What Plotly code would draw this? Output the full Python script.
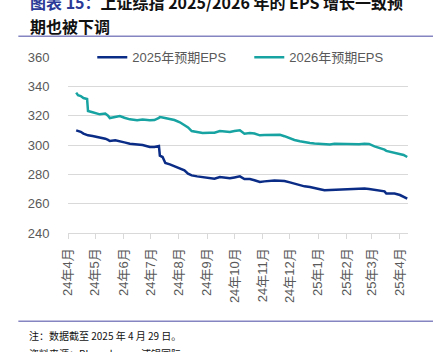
import plotly.graph_objects as go

dates = [
    "2024-04-10", "2024-04-12", "2024-04-15", "2024-04-18", "2024-04-22", "2024-04-23",
    "2024-04-28", "2024-05-03", "2024-05-06", "2024-05-12", "2024-05-15", "2024-05-17",
    "2024-05-23", "2024-05-28", "2024-06-02", "2024-06-08", "2024-06-16", "2024-06-22",
    "2024-06-30", "2024-07-05", "2024-07-10", "2024-07-11", "2024-07-14", "2024-07-17",
    "2024-07-22", "2024-07-27", "2024-08-02", "2024-08-07", "2024-08-11", "2024-08-15",
    "2024-08-21", "2024-08-27", "2024-09-04", "2024-09-09", "2024-09-15", "2024-09-20",
    "2024-09-26", "2024-10-01", "2024-10-07", "2024-10-12", "2024-10-18", "2024-10-23",
    "2024-10-29", "2024-11-03", "2024-11-09", "2024-11-14", "2024-11-20", "2024-11-25",
    "2024-12-01", "2024-12-06", "2024-12-12", "2024-12-17", "2024-12-23", "2024-12-28",
    "2025-01-03", "2025-01-08", "2025-01-14", "2025-01-19", "2025-01-25", "2025-01-30",
    "2025-02-05", "2025-02-10", "2025-02-15", "2025-02-21", "2025-02-26", "2025-03-04",
    "2025-03-09", "2025-03-15", "2025-03-17", "2025-03-22", "2025-03-26", "2025-04-01",
    "2025-04-05", "2025-04-09",
]

eps_2025 = [
    310.0, 309.6, 309.0, 307.8, 307.0, 306.6,
    306.2, 305.7, 305.0, 304.3, 303.5, 302.7,
    303.2, 302.7, 301.8, 300.9, 300.2, 300.0,
    298.6, 298.6, 299.3, 292.7, 291.8, 287.7,
    286.8, 285.4, 283.9, 282.7, 280.5, 279.3,
    278.6, 278.0, 277.3, 277.0, 278.2, 277.8,
    277.3, 277.9, 278.6, 276.8, 276.8, 276.0,
    274.8, 275.2, 275.7, 275.8, 275.7, 275.5,
    274.5, 273.5, 272.5, 271.8, 271.4, 270.9,
    269.8, 269.1, 269.3, 269.8, 269.9, 270.0,
    270.0, 270.3, 270.7, 270.4, 270.0, 269.5,
    268.8, 268.4, 266.9, 266.9, 266.9, 265.9,
    264.8, 263.4,
]

eps_2026 = [
    335.7, 334.0, 333.4, 332.0, 331.4, 323.2,
    322.3, 321.4, 320.9, 321.4, 320.0, 318.4,
    319.3, 319.8, 318.6, 317.5, 316.8, 317.3,
    316.8, 317.0, 318.5, 319.0, 318.8, 318.4,
    317.7, 317.0, 315.5, 313.8, 312.0, 309.5,
    308.6, 308.2, 308.3, 308.4, 309.5, 309.2,
    308.9, 309.5, 310.0, 307.7, 308.2, 307.8,
    306.6, 306.8, 307.0, 307.2, 307.0, 306.0,
    304.5, 303.4, 302.5, 301.8, 301.4, 301.0,
    300.6, 300.4, 300.3, 300.8, 300.7, 300.4,
    300.5, 300.6, 300.5, 300.8, 300.7, 299.1,
    298.2, 296.8, 296.0, 295.4, 294.6, 294.1,
    293.2, 291.8,
]

tick_dates = [
    "2024-04-01", "2024-05-01", "2024-06-01", "2024-07-01", "2024-08-01", "2024-09-01",
    "2024-10-01", "2024-11-01", "2024-12-01", "2025-01-01", "2025-02-01", "2025-03-01",
    "2025-04-01",
]
tick_labels = [
    "24年4月", "24年5月", "24年6月", "24年7月", "24年8月", "24年9月", "24年10月",
    "24年11月", "24年12月", "25年1月", "25年2月", "25年3月", "25年4月",
]

series_names = ["2025年预期EPS", "2026年预期EPS"]

NAVY = "#0B2C86"
TEAL = "#17A3A1"
GRAY = "#595959"
GRID = "#D9D9D9"
FONT = "Liberation Sans, Noto Sans CJK SC, sans-serif"

fig = go.Figure()
fig.add_trace(go.Scatter(x=dates, y=eps_2025, mode="lines", name=series_names[0],
                         line=dict(color=NAVY, width=2.5)))
fig.add_trace(go.Scatter(x=dates, y=eps_2026, mode="lines", name=series_names[1],
                         line=dict(color=TEAL, width=2.5)))

W, H = 433, 352
L, R, T, B = 67.7, 408.0, 56.7, 232.7
pw, ph = R - L, B - T


def px(x):
    return (x - L) / pw


def py(y):
    return (B - y) / ph


fig.update_layout(
    width=W, height=H,
    margin=dict(l=L, r=W - R, t=T, b=H - B, pad=0),
    paper_bgcolor="white", plot_bgcolor="white",
    font=dict(family=FONT, color=GRAY, size=13),
    showlegend=True,
    legend=dict(orientation="h", x=px(92), y=py(42), xanchor="left", yanchor="top",
                font=dict(size=13, color=GRAY), bgcolor="rgba(0,0,0,0)",
                entrywidth=112, entrywidthmode="pixels", itemwidth=30,
                tracegroupgap=0),
    xaxis=dict(
        type="date", range=["2024-04-01", "2025-04-09 20:00"],
        tickvals=tick_dates, ticktext=tick_labels, tickangle=-90,
        ticks="outside", ticklen=5, tickcolor=GRID, tickwidth=1,
        showline=True, linecolor=GRID, linewidth=1, showgrid=False,
        tickfont=dict(size=13, color=GRAY, family=FONT), zeroline=False,
        ticklabelstandoff=4,
    ),
    yaxis=dict(
        range=[240, 360], tickvals=[240, 260, 280, 300, 320, 340, 360],
        showgrid=True, gridcolor=GRID, gridwidth=1, zeroline=False,
        ticks="outside", ticklen=15, tickcolor="rgba(0,0,0,0)",
        tickfont=dict(size=13, color=GRAY, family=FONT), showline=False,
    ),
)

title_font = "Noto Sans CJK SC, Liberation Sans, sans-serif"
fig.add_annotation(
    xref="paper", yref="paper", x=px(28), y=py(2), xanchor="left", yanchor="middle",
    text="<span style='color:#2B3A97'><b>图表 15：</b></span><b>上证综指 2025/2026 年的 EPS 增长一致预</b>",
    showarrow=False, font=dict(family=title_font, size=16, color="#111111"),
)
fig.add_annotation(
    xref="paper", yref="paper", x=px(28), y=py(26), xanchor="left", yanchor="middle",
    text="<b>期也被下调</b>",
    showarrow=False, font=dict(family=title_font, size=16, color="#111111"),
)
fig.add_annotation(
    xref="paper", yref="paper", x=px(27), y=py(335), xanchor="left", yanchor="middle",
    text="注：数据截至 2025 年 4 月 29 日。",
    showarrow=False, font=dict(family=title_font, size=10, color="#111111"),
)
fig.add_annotation(
    xref="paper", yref="paper", x=px(27), y=py(353), xanchor="left", yanchor="middle",
    text="资料来源：Bloomberg，浦银国际",
    showarrow=False, font=dict(family=title_font, size=10, color="#111111"),
)
for yline in (36, 321):
    fig.add_shape(type="line", xref="paper", yref="paper", x0=px(18), x1=px(433),
                  y0=py(yline), y1=py(yline), line=dict(color="#8585C2", width=1.5))

fig.write_html("out.html")
